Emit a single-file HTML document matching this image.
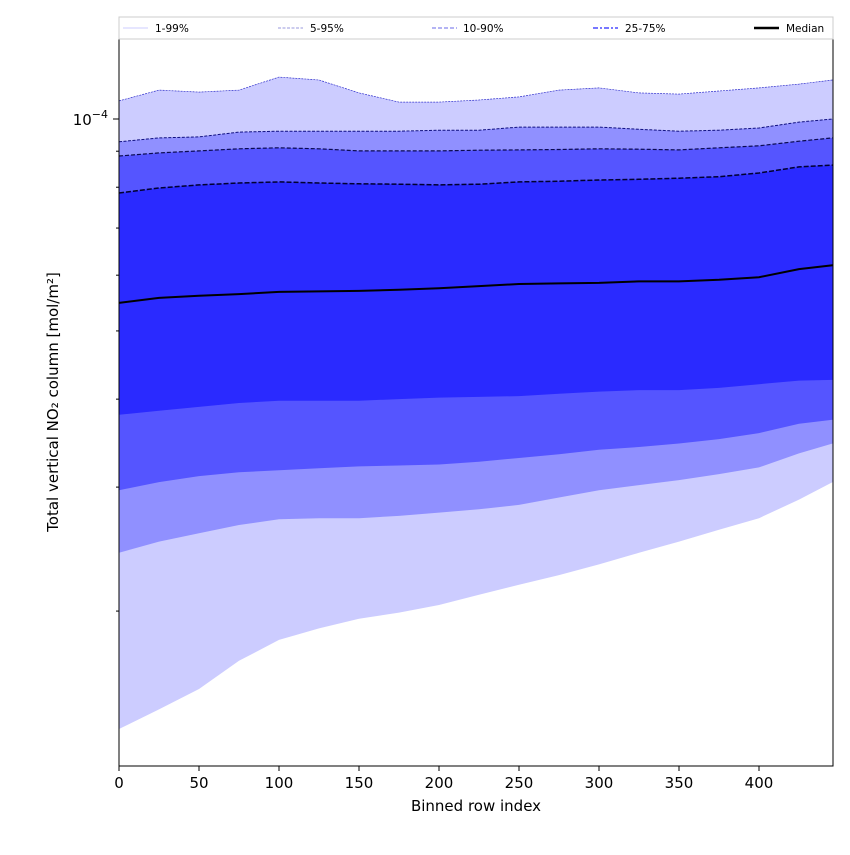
<!DOCTYPE html>
<html><head><meta charset="utf-8"><style>
body{margin:0;background:#fff;}
svg text{font-family:"DejaVu Sans","Liberation Sans",sans-serif;}
</style></head><body>
<svg id="chart" width="850" height="850" xmlns="http://www.w3.org/2000/svg">
<g id="bands"></g>
<g id="lines"></g>
<rect x="119" y="39" width="714" height="727" fill="none" stroke="#000" stroke-width="1"/>
<g id="xticks"></g>
<g id="yticks"></g>
<text x="476" y="811" font-size="15" text-anchor="middle">Binned row index</text>
<text transform="translate(58,402) rotate(-90)" font-size="15" text-anchor="middle">Total vertical NO₂ column [mol/m²]</text>
<g>
<rect x="119" y="17" width="714" height="22" fill="#fff" stroke="#ccc"/>
<line x1="123" y1="28" x2="148" y2="28" stroke="#ccccff" stroke-width="1"/>
<text x="155" y="32" font-size="10.5">1-99%</text>
<line x1="278" y1="28" x2="303" y2="28" stroke="#9999dd" stroke-width="1" stroke-dasharray="3,1.5"/>
<text x="310" y="32" font-size="10.5">5-95%</text>
<line x1="432" y1="28" x2="457" y2="28" stroke="#8888ee" stroke-width="1.3" stroke-dasharray="4,2"/>
<text x="463" y="32" font-size="10.5">10-90%</text>
<line x1="593" y1="28" x2="618" y2="28" stroke="#6666ff" stroke-width="1.8" stroke-dasharray="5,2,2,2"/>
<text x="625" y="32" font-size="10.5">25-75%</text>
<line x1="754" y1="28" x2="779" y2="28" stroke="#000" stroke-width="2.5"/>
<text x="786" y="32" font-size="10.5">Median</text>
</g>
</svg>
<script>
const xs=[0,25,50,75,100,125,150,175,200,225,250,275,300,325,350,375,400,425,446];
const p99=[10.61,10.99,10.92,10.99,11.47,11.36,10.89,10.57,10.57,10.64,10.75,10.99,11.07,10.89,10.85,10.96,11.07,11.21,11.36];
const p95=[9.28,9.40,9.43,9.58,9.61,9.61,9.61,9.61,9.64,9.64,9.74,9.74,9.74,9.67,9.61,9.64,9.71,9.90,10.0];
const p90=[8.86,8.95,9.01,9.07,9.10,9.07,9.01,9.01,9.01,9.03,9.04,9.05,9.07,9.06,9.04,9.10,9.16,9.30,9.40];
const p75=[7.85,7.98,8.06,8.11,8.14,8.11,8.09,8.08,8.06,8.08,8.14,8.16,8.19,8.21,8.24,8.28,8.38,8.55,8.60];
const p50=[5.48,5.57,5.61,5.64,5.68,5.69,5.70,5.72,5.75,5.79,5.83,5.84,5.85,5.88,5.88,5.91,5.96,6.12,6.20];
const p25=[3.80,3.85,3.90,3.95,3.98,3.98,3.98,4.00,4.02,4.03,4.04,4.07,4.10,4.12,4.12,4.15,4.20,4.25,4.26];
const p10=[2.97,3.05,3.11,3.15,3.17,3.19,3.21,3.22,3.23,3.26,3.30,3.34,3.39,3.42,3.46,3.51,3.58,3.69,3.74];
const p05=[2.42,2.51,2.58,2.65,2.70,2.71,2.71,2.73,2.76,2.79,2.83,2.90,2.97,3.02,3.07,3.13,3.20,3.35,3.46];
const p01=[1.36,1.45,1.55,1.70,1.82,1.89,1.95,1.99,2.04,2.11,2.18,2.25,2.33,2.42,2.51,2.61,2.71,2.88,3.05];
const xTicks=[0,50,100,150,200,250,300,350,400];
const yMinor=[2,3,4,5,6,7,8,9];
const NS="http://www.w3.org/2000/svg";
const X=v=>119+v*1.6;
const Y=v=>119-Math.log10(v/10)*704;
function pts(arr){return xs.map((x,i)=>X(x).toFixed(1)+","+Y(arr[i]).toFixed(1));}
function band(up,lo,fill,name){
 const p=document.createElementNS(NS,"polygon");
 p.setAttribute("points",pts(up).concat(pts(lo).reverse()).join(" "));
 p.setAttribute("fill",fill);
 
 
 document.getElementById("bands").appendChild(p);
}
band(p99,p01,"#ccccff","band-1-99");
band(p95,p05,"#9090ff","band-5-95");
band(p90,p10,"#5555ff","band-10-90");
band(p75,p25,"#2a2aff","band-25-75");
function line(arr,stroke,w,dash,name){
 const p=document.createElementNS(NS,"polyline");
 p.setAttribute("points",pts(arr).join(" "));
 p.setAttribute("fill","none");p.setAttribute("stroke",stroke);p.setAttribute("stroke-width",w);
 if(dash)p.setAttribute("stroke-dasharray",dash);
 
 
 document.getElementById("lines").appendChild(p);
}
line(p99,"#3333cc",0.7,"2,1","line-p99");
line(p95,"#101080",1,"3,1.5","line-p95");
line(p90,"#0a0a50",1.2,"4,2","line-p90");
line(p75,"#000030",1.5,"5,2","line-p75");
line(p50,"#000",2,null,"median-line");
const xt=document.getElementById("xticks");
xTicks.forEach(t=>{
 const l=document.createElementNS(NS,"line");
 l.setAttribute("x1",X(t));l.setAttribute("x2",X(t));l.setAttribute("y1",766);l.setAttribute("y2",771);l.setAttribute("stroke","#000");
 
 
 xt.appendChild(l);
 const tx=document.createElementNS(NS,"text");
 tx.setAttribute("x",X(t));tx.setAttribute("y",788);tx.setAttribute("font-size","15");tx.setAttribute("text-anchor","middle");
 tx.textContent=t;
 
 
 xt.appendChild(tx);
});
const yt=document.getElementById("yticks");
yMinor.forEach(v=>{
 const l=document.createElementNS(NS,"line");
 l.setAttribute("x1",116);l.setAttribute("x2",119);l.setAttribute("y1",Y(v));l.setAttribute("y2",Y(v));l.setAttribute("stroke","#000");
 
 
 yt.appendChild(l);
});
const ml=document.createElementNS(NS,"line");
ml.setAttribute("x1",113);ml.setAttribute("x2",119);ml.setAttribute("y1",Y(10));ml.setAttribute("y2",Y(10));ml.setAttribute("stroke","#000");


yt.appendChild(ml);
const yl=document.createElementNS(NS,"text");
yl.setAttribute("x",108);yl.setAttribute("y",Y(10)+6);yl.setAttribute("font-size","15");yl.setAttribute("text-anchor","end");
yl.innerHTML='10<tspan dy="-7" font-size="11">−4</tspan>';


yt.appendChild(yl);
</script>
</body></html>
